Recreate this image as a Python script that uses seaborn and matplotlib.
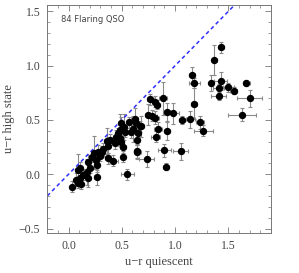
import numpy as np
import pandas as pd
import matplotlib
matplotlib.use("Agg")
import matplotlib.pyplot as plt
import seaborn as sns
from matplotlib.ticker import MultipleLocator

# u-r quiescent / u-r high state
ur_quiet = [1.43, 1.37, 1.16, 1.18, 1.34, 1.43, 1.41, 1.50, 1.55, 1.41,
            1.67, 1.70, 1.18, 1.63,
            0.886, 0.768, 0.81, 0.83, 0.746, 0.787, 0.81, 0.923, 0.98, 1.067,
            1.145, 1.235, 1.266, 0.84, 0.923, 0.668, 0.818, 0.736, 0.90, 0.917,
            1.054, 0.553, 0.643,
            0.03, 0.07, 0.09, 0.107, 0.092, 0.107, 0.138, 0.18, 0.17, 0.18,
            0.217, 0.24, 0.257, 0.263, 0.263, 0.279, 0.316, 0.325, 0.372, 0.366,
            0.357, 0.388, 0.42, 0.45, 0.466, 0.48, 0.48, 0.497, 0.513, 0.513,
            0.52, 0.49, 0.528, 0.584, 0.606, 0.62, 0.637, 0.653, 0.647, 0.647,
            0.684, 0.20, 0.12, 0.57, 0.44, 0.30]
ur_high = [1.17, 1.05, 0.91, 0.84, 0.84, 0.86, 0.79, 0.80, 0.77, 0.72,
           0.84, 0.70, 0.65, 0.55,
           0.70, 0.69, 0.67, 0.64, 0.55, 0.54, 0.52, 0.574, 0.56, 0.50,
           0.505, 0.48, 0.40, 0.42, 0.40, 0.44, 0.345, 0.14, 0.22, 0.07,
           0.21, 0.0, 0.21,
           -0.114, -0.052, -0.077, -0.037, 0.04, 0.055, -0.006, -0.037, 0.024, 0.116,
           0.16, 0.198, 0.131, 0.085, -0.028, 0.207, 0.207, 0.23, 0.147, 0.26,
           0.31, 0.32, 0.125, 0.345, 0.376, 0.406, 0.33, 0.30, 0.253, 0.16,
           0.437, 0.468, 0.39, 0.39, 0.42, 0.51, 0.468, 0.376, 0.315, 0.207,
           0.44, 0.06, -0.09, 0.48, 0.29, 0.17]
err_quiet = [0.03, 0.02, 0.03, 0.05, 0.02, 0.06, 0.05, 0.05, 0.03, 0.07,
             0.03, 0.12, 0.03, 0.13,
             0.04, 0.03, 0.03, 0.03, 0.03, 0.04, 0.04, 0.03, 0.06, 0.03,
             0.04, 0.04, 0.09, 0.04, 0.03, 0.03, 0.04, 0.07, 0.06, 0.03,
             0.07, 0.065, 0.03,
             0.02, 0.02, 0.02, 0.02, 0.02, 0.02, 0.02, 0.02, 0.02, 0.02,
             0.02, 0.02, 0.02, 0.02, 0.02, 0.03, 0.02, 0.02, 0.03, 0.02,
             0.02, 0.02, 0.04, 0.02, 0.02, 0.02, 0.02, 0.02, 0.03, 0.02,
             0.02, 0.02, 0.02, 0.02, 0.02, 0.03, 0.02, 0.02, 0.02, 0.03,
             0.02, 0.02, 0.02, 0.02, 0.02, 0.02]
err_high = [0.05, 0.14, 0.08, 0.05, 0.07, 0.08, 0.04, 0.04, 0.03, 0.04,
            0.03, 0.08, 0.14, 0.06,
            0.15, 0.05, 0.05, 0.04, 0.10, 0.05, 0.06, 0.08, 0.10, 0.04,
            0.08, 0.06, 0.05, 0.06, 0.08, 0.05, 0.05, 0.07, 0.06, 0.03,
            0.08, 0.05, 0.07,
            0.05, 0.06, 0.05, 0.06, 0.15, 0.06, 0.05, 0.08, 0.12, 0.06,
            0.05, 0.15, 0.08, 0.06, 0.07, 0.06, 0.05, 0.06, 0.05, 0.08,
            0.12, 0.05, 0.05, 0.06, 0.05, 0.15, 0.07, 0.05, 0.06, 0.05,
            0.12, 0.06, 0.05, 0.06, 0.12, 0.10, 0.05, 0.06, 0.05, 0.06,
            0.10, 0.05, 0.05, 0.05, 0.06, 0.05]

df = pd.DataFrame({"quiet": ur_quiet, "high": ur_high,
                   "xerr": err_quiet, "yerr": err_high})

sns.set_style("ticks")
plt.rcParams["font.family"] = ["Liberation Serif", "DejaVu Serif"]

fig = plt.figure(figsize=(2.99, 2.73), dpi=100)
ax = fig.add_axes([0.158, 0.147, 0.748, 0.835])

# gray error bars
ax.errorbar(df["quiet"], df["high"], xerr=df["xerr"], yerr=df["yerr"],
            fmt="none", ecolor="#8a8a8a", elinewidth=0.8, capsize=1.5,
            capthick=0.8, zorder=1)
sns.scatterplot(data=df, x="quiet", y="high", color="black", s=28,
                edgecolor="black", linewidth=0, ax=ax, zorder=3)

# one-to-one line
line_x = np.array([-0.2, 1.9])
ax.plot(line_x, line_x, color="#2f2fff", lw=1.1, ls=(0, (2.5, 2)), zorder=2)

ax.set_xlim(-0.2, 1.9)
ax.set_ylim(-0.54, 1.56)
ax.xaxis.set_minor_locator(MultipleLocator(0.1))
ax.yaxis.set_minor_locator(MultipleLocator(0.1))
ax.set_xticks([0.0, 0.5, 1.0, 1.5])
ax.set_xticklabels(["0.0", "0.5", "1.0", "1.5"])
ax.set_yticks([-0.5, 0.0, 0.5, 1.0, 1.5])
ax.set_yticklabels(["\u22120.5", "0.0", "0.5", "1.0", "1.5"])
ax.tick_params(which="both", direction="in", top=True, right=True,
               colors="#777777", labelcolor="#444444", labelsize=8.5)
ax.tick_params(which="major", length=4, width=0.6, pad=5)
ax.tick_params(which="minor", length=2, width=0.5)
for s in ax.spines.values():
    s.set_color("#777777")
    s.set_linewidth(0.7)

ax.set_xlabel("u\u2212r quiescent", fontsize=9, color="#444444", labelpad=3)
ax.set_ylabel("u\u2212r high state", fontsize=9, color="#444444", labelpad=3)
ax.text(0.06, 0.935, "84 Flaring QSO", transform=ax.transAxes, fontsize=6,
        family="DejaVu Sans", color="#444444", va="center", ha="left")

fig.savefig("out.png", dpi=100)
